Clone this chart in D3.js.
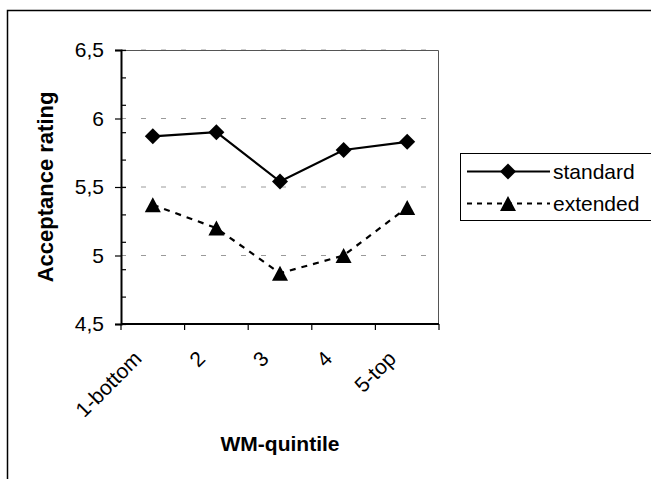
<!DOCTYPE html>
<html lang="en">
    <head>
        <title>Acceptance rating by WM-quintile</title>
        <meta charset="utf-8">
        <script src="https://d3js.org/d3.v7.min.js"></script>
        <style>
            body { margin: 0; background: #fff; }
            text { font-family: "Liberation Sans", Arial, sans-serif; fill: #000; }
        </style>
    </head>
    <body>
        <div id="chart"></div>
    </body>
</html>

<script type="text/javascript">

// Chart values
var categories = ["1-bottom", "2", "3", "4", "5-top"];
var standardValues = [5.87, 5.90, 5.54, 5.77, 5.83];
var extendedValues = [5.37, 5.20, 4.87, 5.00, 5.35];
var yTickValues = [4.5, 5, 5.5, 6, 6.5];
var yTickLabels = ["4,5", "5", "5,5", "6", "6,5"];
var seriesNames = ["standard", "extended"];

var width = 651;
var height = 479;
var plot = {left: 121, right: 439, top: 50, bottom: 324};

var svg = d3.select("#chart").append("svg")
    .attr("width", width)
    .attr("height", height);

// Outer chart border (right and bottom run off the picture)
svg.append("rect")
    .attr("x", 7.5)
    .attr("y", 10.5)
    .attr("width", 660)
    .attr("height", 500)
    .attr("fill", "none")
    .attr("stroke", "#000")
    .attr("stroke-width", 1.5);

// Scales
var xScale = d3.scaleBand()
    .domain(categories)
    .range([plot.left, plot.right]);

var yScale = d3.scaleLinear()
    .domain([4.5, 6.5])
    .range([plot.bottom, plot.top]);

var xCenter = function(i){
    return xScale(categories[i]) + xScale.bandwidth() / 2;
};

// Gridlines
svg.append("g")
    .selectAll("line")
    .data(yTickValues)
    .enter()
    .append("line")
        .attr("x1", plot.left)
        .attr("x2", plot.right)
        .attr("y1", function(d){ return yScale(d); })
        .attr("y2", function(d){ return yScale(d); })
        .attr("stroke", "#9a9a9a")
        .attr("stroke-width", 1)
        .attr("stroke-dasharray", "5,15");

// Plot area border, top and right
svg.append("path")
    .attr("d", "M" + plot.left + "," + (plot.top + 0.5) + "H" + (plot.right - 0.5) + "V" + plot.bottom)
    .attr("fill", "none")
    .attr("stroke", "#555")
    .attr("stroke-width", 1);

// Y axis with major ticks outside and minor ticks inside
var yAxis = d3.axisLeft(yScale)
    .tickValues(yTickValues)
    .tickSize(6)
    .tickPadding(11)
    .tickFormat(function(d, i){ return yTickLabels[i]; });

var yG = svg.append("g")
    .attr("transform", "translate(" + plot.left + ",0)")
    .call(yAxis);
yG.select(".domain").attr("stroke-width", 2);
yG.selectAll(".tick line").attr("stroke-width", 1.2);
yG.selectAll("text")
    .attr("font-size", 21)
    .attr("font-family", "Liberation Sans, Arial, sans-serif");

var yMinor = d3.axisLeft(yScale)
    .tickValues(d3.range(4.5, 6.51, 0.2))
    .tickSize(-5)
    .tickFormat("");

var yMinorG = svg.append("g")
    .attr("transform", "translate(" + plot.left + ",0)")
    .call(yMinor);
yMinorG.select(".domain").remove();
yMinorG.selectAll(".tick line").attr("stroke-width", 1.2);

// X axis line and boundary ticks
var boundaries = categories.map(function(c){ return xScale(c); }).concat([plot.right]);

svg.append("line")
    .attr("x1", plot.left)
    .attr("x2", plot.right)
    .attr("y1", plot.bottom)
    .attr("y2", plot.bottom)
    .attr("stroke", "#000")
    .attr("stroke-width", 2);

svg.append("g")
    .selectAll("line")
    .data(boundaries)
    .enter()
    .append("line")
        .attr("x1", function(d){ return d; })
        .attr("x2", function(d){ return d; })
        .attr("y1", plot.bottom)
        .attr("y2", plot.bottom + 6)
        .attr("stroke", "#000")
        .attr("stroke-width", 1.2);

// Rotated category labels
svg.append("g")
    .selectAll("text")
    .data(categories)
    .enter()
    .append("text")
        .attr("transform", function(d, i){
            return "translate(" + (xCenter(i) - 10) + "," + (plot.bottom + 36) + ") rotate(-45)";
        })
        .attr("text-anchor", "end")
        .attr("font-size", 21)
        .text(function(d){ return d; });

// Axis titles
svg.append("text")
    .attr("transform", "translate(53," + ((plot.top + plot.bottom) / 2) + ") rotate(-90)")
    .attr("text-anchor", "middle")
    .attr("font-size", 22)
    .attr("font-weight", "bold")
    .text("Acceptance rating");

svg.append("text")
    .attr("x", (plot.left + plot.right) / 2)
    .attr("y", 451)
    .attr("text-anchor", "middle")
    .attr("font-size", 21)
    .attr("font-weight", "bold")
    .text("WM-quintile");

// Marker shapes
var diamondPath = "M0,-8L8,0L0,8L-8,0Z";
var trianglePath = "M0,-7.5L8,7.5L-8,7.5Z";

var lineGen = d3.line()
    .x(function(d, i){ return xCenter(i); })
    .y(function(d){ return yScale(d); });

// Standard series
svg.append("path")
    .datum(standardValues)
    .attr("d", lineGen)
    .attr("fill", "none")
    .attr("stroke", "#000")
    .attr("stroke-width", 2.2);

svg.append("g")
    .selectAll("path")
    .data(standardValues)
    .enter()
    .append("path")
        .attr("d", diamondPath)
        .attr("transform", function(d, i){
            return "translate(" + xCenter(i) + "," + yScale(d) + ")";
        })
        .attr("fill", "#000");

// Extended series
svg.append("path")
    .datum(extendedValues)
    .attr("d", lineGen)
    .attr("fill", "none")
    .attr("stroke", "#000")
    .attr("stroke-width", 2.2)
    .attr("stroke-dasharray", "6,6");

svg.append("g")
    .selectAll("path")
    .data(extendedValues)
    .enter()
    .append("path")
        .attr("d", trianglePath)
        .attr("transform", function(d, i){
            return "translate(" + xCenter(i) + "," + yScale(d) + ")";
        })
        .attr("fill", "#000");

// Legend
var legend = svg.append("g");

legend.append("rect")
    .attr("x", 460.5)
    .attr("y", 153.5)
    .attr("width", 200)
    .attr("height", 67)
    .attr("fill", "#fff")
    .attr("stroke", "#000")
    .attr("stroke-width", 1);

var legendRows = [
    {name: seriesNames[0], y: 171.5, dash: null, marker: diamondPath},
    {name: seriesNames[1], y: 203.5, dash: "5,5", marker: trianglePath}
];

legendRows.forEach(function(row){
    legend.append("line")
        .attr("x1", 467)
        .attr("x2", 550)
        .attr("y1", row.y)
        .attr("y2", row.y)
        .attr("stroke", "#000")
        .attr("stroke-width", 2.2)
        .attr("stroke-dasharray", row.dash);

    legend.append("path")
        .attr("d", row.marker)
        .attr("transform", "translate(508," + row.y + ")")
        .attr("fill", "#000");

    legend.append("text")
        .attr("x", 553)
        .attr("y", row.y + 7.5)
        .attr("font-size", 21)
        .text(row.name);
});

</script>
